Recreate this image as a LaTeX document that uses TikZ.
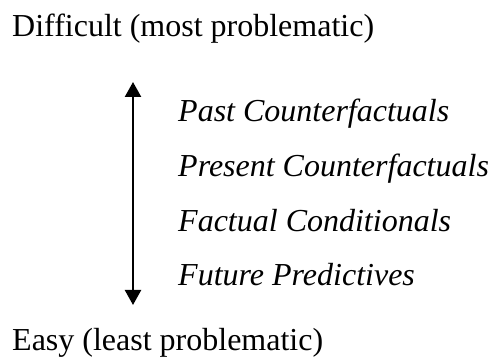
\documentclass[tikz,border=0pt]{standalone}
\usepackage{fontspec}
\setmainfont{Liberation Serif}
\usetikzlibrary{arrows.meta}
\begin{document}
\begin{tikzpicture}[x=1pt,y=1pt,
  endtext/.style={anchor=base west,inner sep=0pt,font=\fontsize{32}{36}\selectfont},
  itemtext/.style={anchor=base west,inner sep=0pt,font=\fontsize{32}{36}\selectfont\itshape},
  rankarrow/.style={line width=2.3pt,{Triangle[width=16pt,length=15pt]}-{Triangle[width=16pt,length=15pt]}}]
\useasboundingbox (0,0) rectangle (492,358);
\node[endtext] (hard) at (12,321) {Difficult (most problematic)};
\node[endtext] (easy) at (12,7.5) {Easy (least problematic)};
\node[itemtext] (p1) at (178,236) {Past Counterfactuals};
\node[itemtext] (p2) at (178,181.3) {Present Counterfactuals};
\node[itemtext] (p3) at (178,126.7) {Factual Conditionals};
\node[itemtext] (p4) at (178,72) {Future Predictives};
\coordinate (top) at (133,276);
\coordinate (bot) at (133,53);
\draw[rankarrow] (bot) -- (top);
\end{tikzpicture}
\end{document}
